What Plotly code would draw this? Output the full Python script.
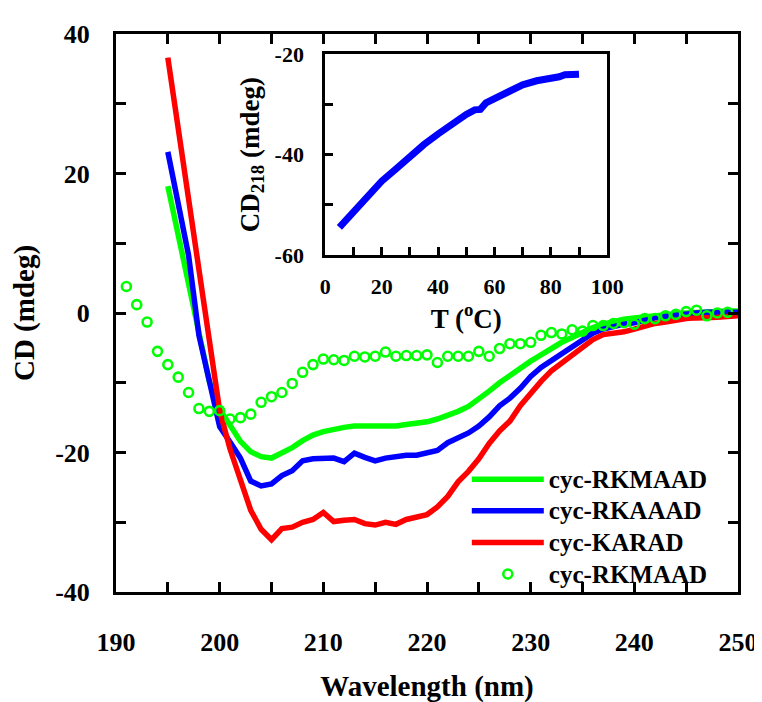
import plotly.graph_objects as go

# ---------------- data ----------------
wl_lines = list(range(195, 251))
cd_rkmaad = [18.2, 11.3, 4.2, -3.0, -9.8, -13.8, -16.1, -18.4, -19.9, -20.6,
             -20.8, -20.1, -19.3, -18.3, -17.5, -17.0, -16.6, -16.4, -16.2, -16.2,
             -16.2, -16.2, -16.2, -16.0, -15.8, -15.6, -15.2, -14.7, -14.1, -13.4,
             -12.4, -11.2, -10.0, -8.9, -7.8, -6.9, -6.0, -5.0, -4.2, -3.5,
             -2.7, -2.1, -1.6, -1.2, -0.9, -0.7, -0.5, -0.4, -0.2, -0.1,
             0.0, 0.1, 0.2, 0.3, 0.3, 0.3]
cd_rkaaad = [23.1, 15.6, 8.3, -3.2, -10.0, -16.3, -18.5, -20.8, -24.1, -24.8,
             -24.5, -23.3, -22.6, -21.2, -20.9, -20.8, -20.8, -21.3, -20.1, -20.7,
             -21.2, -20.8, -20.6, -20.4, -20.4, -20.0, -19.7, -18.6, -17.9, -17.2,
             -16.2, -14.9, -13.3, -12.2, -10.8, -9.1, -7.8, -6.8, -5.7, -4.8,
             -3.8, -2.9, -2.3, -1.9, -1.6, -1.4, -1.0, -0.7, -0.5, -0.3,
             -0.1, 0.0, 0.1, 0.1, 0.1, 0.1]
cd_karad = [36.6, 26.5, 16.3, 6.1, -4.0, -14.0, -19.5, -24.0, -28.3, -31.0,
            -32.5, -30.9, -30.7, -30.0, -29.6, -28.6, -29.9, -29.7, -29.6, -30.2,
            -30.4, -30.0, -30.3, -29.6, -29.2, -28.9, -27.8, -26.3, -24.2, -22.7,
            -20.9, -18.7, -16.9, -15.5, -13.3, -11.4, -9.8, -8.3, -7.2, -6.0,
            -5.0, -3.8, -3.1, -2.9, -2.7, -2.3, -1.8, -1.5, -1.3, -1.0,
            -0.8, -0.7, -0.7, -0.6, -0.5, -0.4]

wl_circles = list(range(191, 250))
cd_rkmaad_circ = [3.8, 1.2, -1.3, -5.5, -7.4, -9.2, -11.4, -13.7, -14.1, -14.0,
                  -15.2, -15.0, -14.5, -12.8, -12.0, -11.4, -10.1, -8.5, -7.4, -6.6,
                  -6.7, -6.8, -6.2, -6.3, -6.2, -5.6, -6.2, -6.1, -6.1, -6.0,
                  -7.1, -6.2, -6.2, -6.2, -5.5, -6.2, -5.1, -4.4, -4.4, -4.2,
                  -3.2, -2.8, -3.0, -2.4, -2.6, -1.8, -1.8, -1.5, -1.4, -1.6,
                  -0.8, -0.8, -0.4, -0.2, 0.2, 0.4, -0.4, 0.0, 0.1]

temp_c = [5, 10, 15, 20, 25, 30, 35, 40, 45, 50, 53, 55, 57, 60, 65, 70, 75, 80, 83, 85, 88, 90]
cd218 = [-54.5, -51.3, -48.2, -45.3, -42.9, -40.3, -38.0, -35.9, -33.8, -32.0, -31.1,
         -31.0, -29.7, -28.8, -27.4, -26.1, -25.3, -24.9, -24.5, -24.1, -24.0, -24.0]

series_names = ["cyc-RKMAAD", "cyc-RKAAAD", "cyc-KARAD", "cyc-RKMAAD"]

x_ticks = list(range(190, 251, 5))
x_labels = [str(v) if v % 10 == 0 else "" for v in x_ticks]
y_ticks = list(range(-40, 41, 10))
y_labels = [str(v) if v % 20 == 0 else "" for v in y_ticks]
ix_ticks = list(range(0, 101, 10))
ix_labels = [str(v) if v % 20 == 0 else "" for v in ix_ticks]
iy_ticks = list(range(-60, -19, 10))
iy_labels = [str(v) if v % 20 == 0 else "" for v in iy_ticks]

GREEN, BLUE, RED = "#00FF00", "#0000FF", "#FF0000"
FONT = "Times New Roman, Liberation Serif, serif"


def leg(name):
    return '<span style="font-size:25px"><b>%s</b></span>' % name


fig = go.Figure()
fig.add_trace(go.Scatter(x=wl_lines, y=cd_rkmaad, mode="lines", name=leg(series_names[0]),
                         line=dict(color=GREEN, width=5.5)))
fig.add_trace(go.Scatter(x=wl_lines, y=cd_rkaaad, mode="lines", name=leg(series_names[1]),
                         line=dict(color=BLUE, width=5.5)))
fig.add_trace(go.Scatter(x=wl_lines, y=cd_karad, mode="lines", name=leg(series_names[2]),
                         line=dict(color=RED, width=5.5)))
fig.add_trace(go.Scatter(x=wl_circles, y=cd_rkmaad_circ, mode="markers", name=leg(series_names[3]),
                         marker=dict(symbol="circle-open", size=9, color=GREEN,
                                     line=dict(color=GREEN, width=2.6))))
fig.add_trace(go.Scatter(x=temp_c, y=cd218, mode="lines", showlegend=False,
                         line=dict(color=BLUE, width=7), xaxis="x2", yaxis="y2"))

axis_common = dict(showgrid=False, zeroline=False, showline=True, linecolor="black",
                   linewidth=3, ticks="inside", tickcolor="black", tickwidth=2.5)

fig.update_layout(
    width=762, height=702,
    margin=dict(l=108, r=24, t=25, b=109),
    paper_bgcolor="white", plot_bgcolor="white",
    font=dict(family=FONT, color="black"),
    xaxis=dict(axis_common, range=[190, 250], tickvals=x_ticks, ticktext=x_labels,
               ticklen=10, mirror="ticks",
               tickfont=dict(size=26, family=FONT, weight="bold"), ticklabelstandoff=25,
               title=dict(text="<b>Wavelength (nm)</b>", font=dict(size=29, family=FONT),
                          standoff=20)),
    yaxis=dict(axis_common, range=[-40, 40], tickvals=y_ticks, ticktext=y_labels,
               ticklen=10, mirror="ticks",
               tickfont=dict(size=26, family=FONT, weight="bold"), ticklabelstandoff=18,
               title=dict(text="<b>CD (mdeg)</b>", font=dict(size=29, family=FONT),
                          standoff=14)),
    xaxis2=dict(axis_common, domain=[0.3365, 0.7897], anchor="y2", range=[0, 100],
                tickvals=ix_ticks, ticktext=ix_labels, ticklen=8, mirror=True,
                tickfont=dict(size=22, family=FONT, weight="bold"), ticklabelstandoff=10,
                title=dict(text="<b>T (<sup>o</sup>C)</b>", font=dict(size=27, family=FONT),
                           standoff=6)),
    yaxis2=dict(axis_common, domain=[0.6039, 0.9639], anchor="x2", range=[-60, -20],
                tickvals=iy_ticks, ticktext=iy_labels, ticklen=8, mirror=True,
                tickfont=dict(size=22, family=FONT, weight="bold"), ticklabelstandoff=14,
                title=dict(text="<b>CD<sub>218</sub> (mdeg)</b>", font=dict(size=27, family=FONT),
                           standoff=8)),
    legend=dict(x=0.564, y=0.2394, xanchor="left", yanchor="top",
                bgcolor="rgba(0,0,0,0)", borderwidth=0,
                font=dict(size=22, family=FONT, color="black"),
                itemwidth=72, tracegroupgap=0),
    showlegend=True,
)

fig.write_html("out.html")
